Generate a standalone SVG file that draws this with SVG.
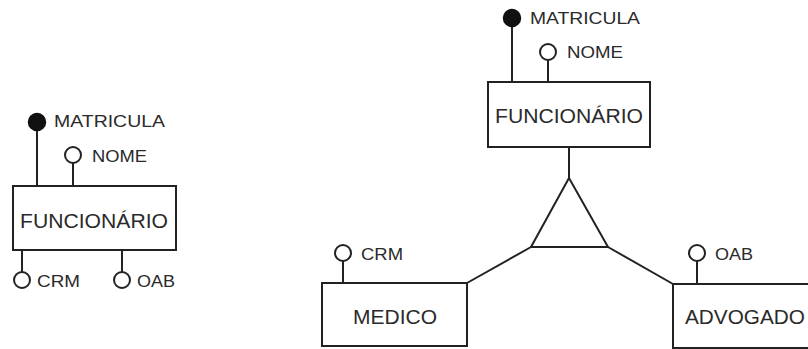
<svg xmlns="http://www.w3.org/2000/svg" width="808" height="349" viewBox="0 0 808 349">
  <style>
    .box { fill: #ffffff; stroke: #222222; stroke-width: 2; }
    .ln { stroke: #222222; stroke-width: 2; fill: none; }
    .key { fill: #111111; stroke: #111111; stroke-width: 1.5; }
    .att { fill: #ffffff; stroke: #222222; stroke-width: 2; }
    .lbl { font-family: "Liberation Sans", Arial, sans-serif; font-size: 21px; fill: #2a2a2a; }
    .atl { font-family: "Liberation Sans", Arial, sans-serif; font-size: 17px; fill: #2a2a2a; }
  </style>
  <rect width="808" height="349" fill="#ffffff"/>

  <!-- Left: single entity with optional attributes -->
  <g id="left-funcionario">
    <line class="ln" x1="37" y1="122" x2="37" y2="186"/>
    <circle class="key" cx="37" cy="122" r="8.5"/>
    <text class="atl" x="54" y="127" textLength="111" lengthAdjust="spacingAndGlyphs">MATRICULA</text>
    <line class="ln" x1="73" y1="163" x2="73" y2="186"/>
    <circle class="att" cx="73" cy="155" r="8"/>
    <text class="atl" x="92" y="162" textLength="55" lengthAdjust="spacingAndGlyphs">NOME</text>
    <rect class="box" x="13" y="186" width="163" height="64"/>
    <text class="lbl" x="20" y="228" textLength="148" lengthAdjust="spacingAndGlyphs">FUNCIONÁRIO</text>
    <line class="ln" x1="22" y1="250" x2="22" y2="272"/>
    <circle class="att" cx="22" cy="280" r="8"/>
    <text class="atl" x="37" y="287" textLength="43" lengthAdjust="spacingAndGlyphs">CRM</text>
    <line class="ln" x1="122" y1="250" x2="122" y2="272"/>
    <circle class="att" cx="122" cy="280" r="8"/>
    <text class="atl" x="137" y="287" textLength="38" lengthAdjust="spacingAndGlyphs">OAB</text>
  </g>

  <!-- Right: generalization -->
  <g id="funcionario">
    <line class="ln" x1="512" y1="18" x2="512" y2="82"/>
    <circle class="key" cx="512" cy="18" r="8.5"/>
    <text class="atl" x="530" y="24" textLength="110" lengthAdjust="spacingAndGlyphs">MATRICULA</text>
    <line class="ln" x1="548" y1="60" x2="548" y2="82"/>
    <circle class="att" cx="548" cy="52" r="8"/>
    <text class="atl" x="567" y="58" textLength="56" lengthAdjust="spacingAndGlyphs">NOME</text>
    <rect class="box" x="488" y="82" width="162" height="65"/>
    <text class="lbl" x="495" y="123" textLength="148" lengthAdjust="spacingAndGlyphs">FUNCIONÁRIO</text>
  </g>

  <g id="specialization">
    <polygon class="ln" points="569,178 531,247 608,247"/>
  </g>

  <g id="medico">
    <line class="ln" x1="343" y1="261" x2="343" y2="283"/>
    <circle class="att" cx="343" cy="253" r="8"/>
    <text class="atl" x="361" y="260" textLength="42" lengthAdjust="spacingAndGlyphs">CRM</text>
    <rect class="box" x="322" y="283" width="145" height="63"/>
    <text class="lbl" x="353" y="324" textLength="84" lengthAdjust="spacingAndGlyphs">MEDICO</text>
  </g>

  <g id="advogado">
    <line class="ln" x1="697" y1="261" x2="697" y2="284"/>
    <circle class="att" cx="697" cy="253" r="8"/>
    <text class="atl" x="715" y="260" textLength="38" lengthAdjust="spacingAndGlyphs">OAB</text>
    <rect class="box" x="673" y="284" width="145" height="64"/>
    <text class="lbl" x="685" y="324" textLength="120" lengthAdjust="spacingAndGlyphs">ADVOGADO</text>
  </g>

  <g id="connectors">
    <line class="ln" x1="569" y1="147" x2="569" y2="178"/>
    <line class="ln" x1="531" y1="247" x2="467" y2="283"/>
    <line class="ln" x1="608" y1="247" x2="673" y2="284"/>
  </g>
</svg>
